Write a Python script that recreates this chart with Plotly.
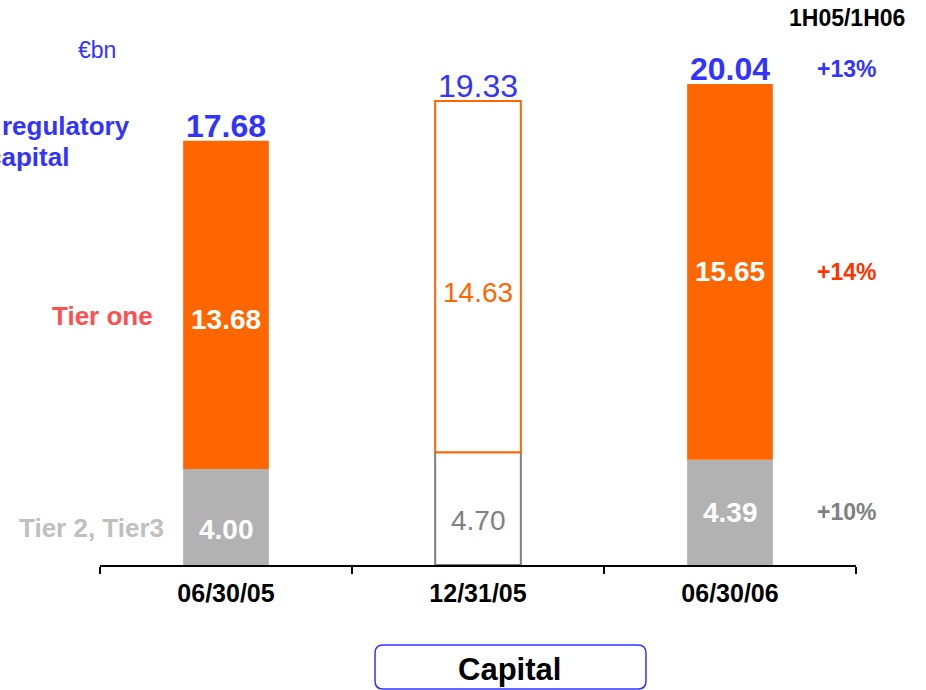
import plotly.graph_objects as go

# Capital composition, €bn
dates = ["06/30/05", "12/31/05", "06/30/06"]
tier2_3 = [4.00, 4.70, 4.39]
tier1 = [13.68, 14.63, 15.65]
totals = [17.68, 19.33, 20.04]
growth_labels = ["+13%", "+14%", "+10%"]  # 1H05/1H06: total, tier one, tier 2+3

BLUE = "#3333FF"
ORANGE = "#FF6600"
GREY = "#B2B2B2"
DARK_GREY = "#808080"
FONT = "Arial, Liberation Sans, sans-serif"

# the middle (year-end) column is drawn as an outline only
tier1_fill = [ORANGE, "white", ORANGE]
tier1_line = [ORANGE, ORANGE, ORANGE]
tier2_fill = [GREY, "white", GREY]
tier2_line = [GREY, DARK_GREY, GREY]
line_w = [0, 2, 0]

fig = go.Figure()
fig.add_trace(go.Bar(
    x=dates, y=tier2_3, width=0.34,
    marker=dict(color=tier2_fill, line=dict(color=tier2_line, width=line_w)),
    hoverinfo="skip", showlegend=False,
))
fig.add_trace(go.Bar(
    x=dates, y=tier1, base=tier2_3, width=0.34,
    marker=dict(color=tier1_fill, line=dict(color=tier1_line, width=line_w)),
    hoverinfo="skip", showlegend=False,
))

ann = []
# segment values inside the bars (pixel nudges per column)
t1_shift = [-15, -16, 0]
t2_shift = [-12, -12, 0]
for i, d in enumerate(dates):
    outline = (i == 1)
    ann.append(dict(
        x=d, y=tier2_3[i] + tier1[i] / 2, xref="x", yref="y",
        text=f"{tier1[i]:.2f}" if outline else f"<b>{tier1[i]:.2f}</b>",
        font=dict(family=FONT, size=28, color=ORANGE if outline else "white"),
        showarrow=False, xanchor="center", yanchor="middle", yshift=t1_shift[i],
    ))
    ann.append(dict(
        x=d, y=tier2_3[i] / 2, xref="x", yref="y",
        text=f"{tier2_3[i]:.2f}" if outline else f"<b>{tier2_3[i]:.2f}</b>",
        font=dict(family=FONT, size=28, color=DARK_GREY if outline else "white"),
        showarrow=False, xanchor="center", yanchor="middle", yshift=t2_shift[i],
    ))
    ann.append(dict(
        x=d, y=totals[i], xref="x", yref="y",
        text=f"{totals[i]:.2f}" if outline else f"<b>{totals[i]:.2f}</b>",
        font=dict(family=FONT, size=32, color=BLUE),
        showarrow=False, xanchor="center", yanchor="middle", yshift=15,
    ))

# growth column on the right, level with the last bar's labels
growth_y = [totals[2], tier2_3[2] + tier1[2] / 2, tier2_3[2] / 2]
growth_shift = [15, 0, 0]
growth_col = [BLUE, "#FF3300", DARK_GREY]
for g, y, s, c in zip(growth_labels, growth_y, growth_shift, growth_col):
    ann.append(dict(
        x=0.987, y=y, xref="paper", yref="y", text=f"<b>{g}</b>",
        font=dict(family=FONT, size=23, color=c),
        showarrow=False, xanchor="center", yanchor="middle", yshift=s,
    ))

ann += [
    dict(x=0.988, y=0.991, xref="paper", yref="paper", text="<b>1H05/1H06</b>",
         font=dict(family=FONT, size=23, color="black"),
         showarrow=False, xanchor="center", yanchor="middle"),
    dict(x=-0.004, y=0.933, xref="paper", yref="paper", text="€bn",
         font=dict(family=FONT, size=23, color=BLUE),
         showarrow=False, xanchor="center", yanchor="middle"),
    dict(x=-0.1323, y=0.795, xref="paper", yref="paper", text="<b>regulatory</b>",
         font=dict(family=FONT, size=26, color=BLUE),
         showarrow=False, xanchor="left", yanchor="middle"),
    dict(x=-0.1521, y=0.739, xref="paper", yref="paper", text="<b>capital</b>",
         font=dict(family=FONT, size=26, color=BLUE),
         showarrow=False, xanchor="left", yanchor="middle"),
    dict(x=0.0728, y=tier2_3[0] + tier1[0] / 2, xref="paper", yref="y",
         text="<b>Tier one</b>", font=dict(family=FONT, size=26, color="#FF5050"),
         showarrow=False, xanchor="right", yanchor="middle", yshift=-11),
    dict(x=0.0873, y=tier2_3[0] / 2, xref="paper", yref="y",
         text="<b>Tier 2, Tier3</b>", font=dict(family=FONT, size=26, color="#BFBFBF"),
         showarrow=False, xanchor="right", yanchor="middle", yshift=-11),
    dict(x=0.5423, y=-0.190, xref="paper", yref="paper", text="<b>Capital</b>",
         font=dict(family=FONT, size=31, color="black"),
         showarrow=False, xanchor="center", yanchor="middle"),
]

# rounded frame around the "Capital" caption (paper coordinates)
x0, x1, y0, y1 = 0.3638, 0.7222, -0.2246, -0.1449
rx, ry = 8 / 756, 8 / 552
path = (f"M {x0+rx},{y1} L {x1-rx},{y1} Q {x1},{y1} {x1},{y1-ry} "
        f"L {x1},{y0+ry} Q {x1},{y0} {x1-rx},{y0} L {x0+rx},{y0} "
        f"Q {x0},{y0} {x0},{y0+ry} L {x0},{y1-ry} Q {x0},{y1} {x0+rx},{y1} Z")

fig.update_layout(
    width=926, height=690,
    margin=dict(l=100, r=70, t=13, b=125),
    plot_bgcolor="white", paper_bgcolor="white",
    barmode="overlay",
    annotations=ann,
    shapes=[dict(type="path", path=path, xref="paper", yref="paper",
                 line=dict(color=BLUE, width=1.5), fillcolor="rgba(0,0,0,0)")],
    xaxis=dict(
        showline=True, linecolor="black", linewidth=2,
        ticks="outside", tickson="boundaries", ticklen=7, tickwidth=2, tickcolor="black",
        tickfont=dict(family=FONT, size=25, color="black"),
        tickvals=dates, ticktext=[f"<b>{d}</b>" for d in dates],
        ticklabelstandoff=5, showgrid=False, zeroline=False, fixedrange=True,
    ),
    yaxis=dict(range=[0, 23], visible=False, fixedrange=True),
)

fig.write_html("out.html")
